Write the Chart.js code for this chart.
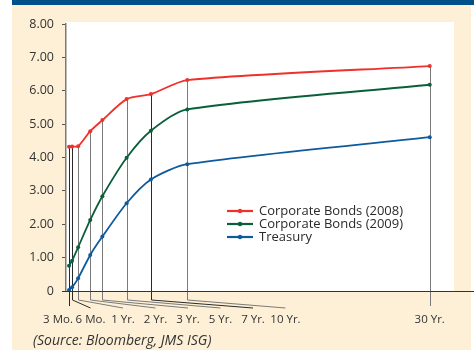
<!DOCTYPE html>
<html>
<head>
<meta charset="utf-8">
<script src="https://cdn.jsdelivr.net/npm/chart.js@4/dist/chart.umd.min.js"></script>
<style>
  html, body { margin: 0; padding: 0; background: #ffffff; }
  body { width: 474px; height: 350px; position: relative; overflow: hidden; font-family: "Open Sans", sans-serif; }
  #band { position: absolute; left: 12px; top: 0; width: 462px; height: 5px; background: #00518a; }
  #panel { position: absolute; left: 12px; top: 5px; width: 459px; height: 345px; background: #fdf0d6; }
  #wrap { position: absolute; left: 0; top: 0; width: 474px; height: 350px; }
  #source { position: absolute; left: 33px; top: 330px; font-size: 14px; font-style: italic; color: #333; white-space: nowrap; }
</style>
</head>
<body>
<div id="band"></div>
<div id="panel"></div>
<div id="wrap"><canvas id="c" width="474" height="350"></canvas></div>
<div id="source">(Source: Bloomberg, JMS ISG)</div>
<script>
// Maturities along the curve
const tenors = ['3 Mo.', '6 Mo.', '1 Yr.', '2 Yr.', '3 Yr.', '5 Yr.', '7 Yr.', '10 Yr.', '30 Yr.'];
const maturityYears = [0.25, 0.5, 1, 2, 3, 5, 7, 10, 30];

// Yields (%)
const corp2008 = [4.32, 4.33, 4.34, 4.79, 5.12, 5.75, 5.90, 6.32, 6.74];
const corp2009 = [0.76, 0.91, 1.31, 2.13, 2.84, 3.99, 4.80, 5.44, 6.18];
const treasury = [0.03, 0.11, 0.38, 1.08, 1.63, 2.63, 3.34, 3.80, 4.61];

const seriesNames = ['Corporate Bonds (2008)', 'Corporate Bonds (2009)', 'Treasury'];
const yTicks = [0, 1, 2, 3, 4, 5, 6, 7, 8];

const colors = ['#f0302a', '#0b5e3a', '#0d5a9c'];
const FONT = '"Open Sans", sans-serif';

function pts(values) {
  return values.map((v, i) => ({ x: maturityYears[i], y: v }));
}

function mkSet(label, values, color) {
  return {
    label,
    data: pts(values),
    borderColor: color,
    backgroundColor: color,
    borderWidth: 1.8,
    pointRadius: 2,
    pointBorderWidth: 0,
    pointBackgroundColor: color,
    tension: 0.25,
    fill: false
  };
}

// White plotting panel behind the curves
const plotPanel = {
  id: 'plotPanel',
  beforeDraw(chart) {
    const { ctx, chartArea: a } = chart;
    ctx.save();
    ctx.fillStyle = '#ffffff';
    ctx.fillRect(a.left, a.top - 2, a.right - a.left, a.bottom - a.top + 2);
    ctx.restore();
  }
};

// Drop lines from each maturity to its fanned-out label, plus the baseline
const tenorGuides = {
  id: 'tenorGuides',
  beforeDatasetsDraw(chart) {
    const { ctx, chartArea: a, scales: { x, y } } = chart;
    const last = maturityYears.length - 1;
    ctx.save();
    ctx.lineWidth = 1;
    maturityYears.forEach((m, i) => {
      const px = Math.round(x.getPixelForValue(m)) + 0.5;
      const top = y.getPixelForValue(Math.max(corp2008[i], corp2009[i], treasury[i]));
      const slot = i === last ? px : a.left - 8 + 32.5 * i;
      ctx.strokeStyle = (i === 0 || i === 1 || i === 6) ? '#2a2a2a' : '#7a7a7a';
      ctx.beginPath();
      ctx.moveTo(px, top);
      if (i === 0 || i === last) {
        ctx.lineTo(px, a.bottom + 15);
      } else {
        ctx.lineTo(px, a.bottom + 9);
        ctx.lineTo(slot, a.bottom + 17);
      }
      ctx.stroke();
    });
    // horizontal axis line
    ctx.strokeStyle = '#333333';
    ctx.beginPath();
    ctx.moveTo(a.left - 4, Math.round(a.bottom) + 0.5);
    ctx.lineTo(chart.width, Math.round(a.bottom) + 0.5);
    ctx.stroke();
    ctx.restore();
  },
  afterDatasetsDraw(chart) {
    const { ctx, chartArea: a, scales: { x } } = chart;
    const last = maturityYears.length - 1;
    ctx.save();
    ctx.font = '11.5px ' + FONT;
    ctx.fillStyle = '#333333';
    ctx.textAlign = 'center';
    ctx.textBaseline = 'middle';
    tenors.forEach((t, i) => {
      const slot = i === last ? x.getPixelForValue(maturityYears[i]) : a.left - 8 + 32.5 * i;
      ctx.fillText(t, slot, a.bottom + 29);
    });
    ctx.restore();
  }
};

// Legend placed inside the plot
const innerLegend = {
  id: 'innerLegend',
  afterDatasetsDraw(chart) {
    const { ctx, chartArea: a } = chart;
    const x0 = a.left + 161, y0 = a.top + 187, row = 13;
    ctx.save();
    ctx.font = '13px ' + FONT;
    ctx.textBaseline = 'middle';
    ctx.textAlign = 'left';
    chart.data.datasets.forEach((ds, i) => {
      const yy = y0 + i * row;
      ctx.strokeStyle = ds.borderColor;
      ctx.lineWidth = 2.2;
      ctx.beginPath();
      ctx.moveTo(x0, yy);
      ctx.lineTo(x0 + 26, yy);
      ctx.stroke();
      ctx.fillStyle = ds.borderColor;
      ctx.beginPath();
      ctx.arc(x0 + 13, yy, 2.2, 0, Math.PI * 2);
      ctx.fill();
      ctx.fillStyle = '#2a2a2a';
      ctx.fillText(ds.label, x0 + 32, yy);
    });
    ctx.restore();
  }
};

new Chart(document.getElementById('c'), {
  type: 'line',
  data: {
    datasets: [
      mkSet(seriesNames[0], corp2008, colors[0]),
      mkSet(seriesNames[1], corp2009, colors[1]),
      mkSet(seriesNames[2], treasury, colors[2])
    ]
  },
  options: {
    responsive: false,
    animation: false,
    devicePixelRatio: 1,
    layout: { padding: { top: 24, right: 20, bottom: 59, left: 0 } },
    plugins: { legend: { display: false }, tooltip: { enabled: false } },
    scales: {
      x: { type: 'linear', display: false, min: 0, max: 32 },
      y: {
        min: 0, max: 8,
        afterFit(s) { s.width = 66; },
        afterBuildTicks(s) { s.ticks = yTicks.map(v => ({ value: v })); },
        border: { display: true, color: '#7a7a7a', width: 1.5 },
        grid: { drawOnChartArea: false, drawTicks: true, tickLength: 4, color: '#555555' },
        ticks: {
          padding: 8,
          color: '#333333',
          font: { family: FONT, size: 12.5 },
          callback: v => (v === 0 ? '0' : v.toFixed(2))
        }
      }
    }
  },
  plugins: [plotPanel, tenorGuides, innerLegend]
});
</script>
</body>
</html>
